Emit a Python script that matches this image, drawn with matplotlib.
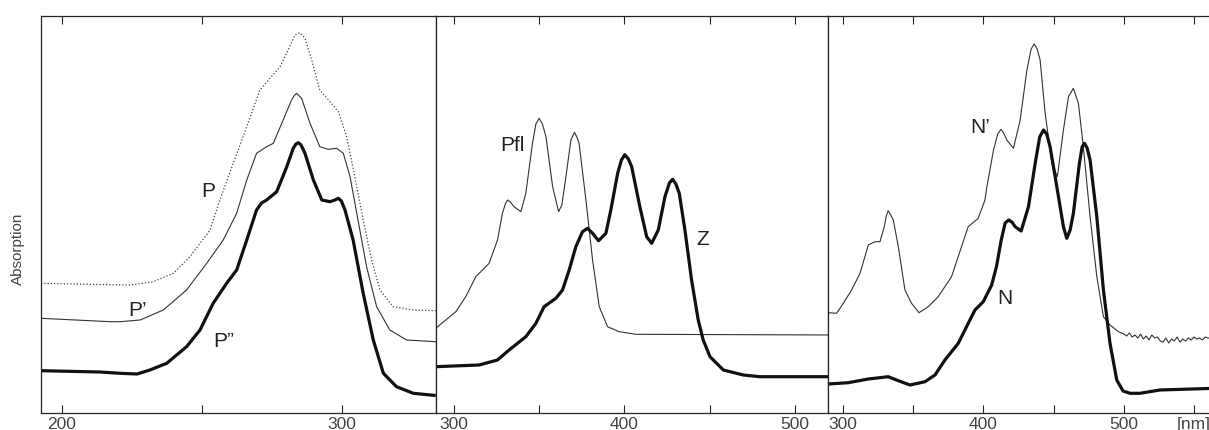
import matplotlib
matplotlib.use('Agg')
import matplotlib.pyplot as plt

plt.rcParams['font.family'] = ['Liberation Sans', 'DejaVu Sans']

# absorption in arbitrary units (0 = bottom of the frame), wavelength in nm
# panel 1: P (dotted), P' (thin), P'' (thick)
p_nm = [192.5, 213.6, 224.3, 232.6, 239.8, 245.7, 252.9, 256.4, 261.2, 266.0, 270.7, 274.3, 277.9,
        280.8, 283.2, 285.0, 286.8, 289.2, 292.1, 295.7, 298.7, 301.7, 304.6, 307.6, 310.6, 313.6,
        318.3, 325.5, 333.5]
p_abs = [129.7, 128.5, 128, 131.3, 139.7, 156.3, 183, 213, 249.7, 286.3, 323, 334.7, 346.3,
         363, 378, 380.3, 374.7, 353, 323, 311.3, 301.3, 276.3, 236.3, 193, 153, 123,
         106.3, 103, 102.3]

p1_nm = [192.5, 217.1, 220.7, 227.9, 236.2, 244.5, 251.7, 257.6, 262.4, 266.0, 269.5, 273.1, 275.5,
         279.0, 282.0, 283.0, 283.8, 284.6, 285.6, 288.6, 292.1, 295.1, 298.1, 300.5, 302.9, 305.3,
         308.8, 312.4, 317.1, 323.1, 333.5]
p1_abs = [94.7, 91.3, 91.3, 93, 103, 123, 149.7, 173, 199.7, 233, 259.7, 266.3, 269.7,
          293, 313, 317.5, 319.7, 317.5, 314.7, 289.7, 266.3, 263.7, 264.7, 259.7, 236.3, 199.7,
          146.3, 106.3, 83, 73, 71.3]

p2_nm = [192.5, 213.6, 220.7, 226.8, 231.4, 237.4, 244.5, 249.3, 254.0, 258.8, 262.4, 266.0, 269.5,
         271.3, 273.1, 276.7, 280.3, 282.6, 283.6, 284.4, 285.4, 286.8, 289.8, 292.8, 295.7, 297.5,
         298.7, 299.8, 301.1, 304.0, 307.6, 311.2, 314.8, 319.5, 325.5, 333.5]
p2_abs = [42.3, 41, 39.7, 39, 43, 49.7, 66.3, 83, 109.7, 129.7, 143, 173, 203,
          210, 213, 221.3, 246.3, 264.7, 269, 270.3, 268, 259.7, 233, 213, 211.3, 213,
          214.7, 212, 203, 173, 119.7, 73, 39.7, 26.3, 19.7, 17.5]

# panel 2: Pfl (thin), Z (thick)
pfl_nm = [289.4, 301.2, 307.0, 312.9, 320.7, 325.6, 328.5, 330.2, 331.5, 333.1, 335.3, 339.3, 342.2,
          346.1, 348.1, 350.0, 351.9, 354.0, 357.9, 361.4, 363.3, 365.7, 368.6, 370.7, 372.1, 373.4,
          377.4, 381.3, 385.2, 390.1, 396.9, 406.7, 525]
pfl_abs = [84.7, 101.3, 116.3, 136.3, 149.7, 173, 199.7, 209, 213, 211, 206.3, 201.3, 219.7,
           269.7, 289, 294.7, 289, 276.3, 226.3, 201.3, 208, 236.3, 273, 280.7, 276, 269.7,
           213, 153, 106.3, 86.3, 81.3, 78.7, 78]

z_nm = [289.4, 314.8, 325.6, 332.4, 342.2, 348.1, 352.9, 359.8, 363.7, 367.6, 371.5, 375.4, 378.4,
        381.3, 384.8, 389.1, 392.0, 396.0, 398.2, 400.2, 402.3, 404.2, 409.0, 413.0, 415.9, 419.8,
        423.7, 426.3, 428.2, 430.1, 432.1, 435.4, 439.3, 443.2, 446.1, 450.1, 457.9, 469.6, 479.4,
        500.9, 525]
z_abs = [46.3, 48, 53, 63, 76.3, 89.7, 106.3, 114.7, 123, 143, 166.3, 181.3, 184.7,
         179.7, 172.3, 179.7, 203, 239.7, 253, 258.3, 254, 246.3, 206.3, 176.3, 169.7, 183,
         216.3, 230, 233.7, 229, 219.7, 183, 133, 93, 73, 56.3, 43, 38, 36.3,
         36.3, 36.3]

# panel 3: N' (thin), N (thick)
n1_nm = [289.5, 295.4, 300.2, 306.1, 312.1, 318.0, 322.8, 326.3, 329.4, 330.8, 332.2, 334.0, 335.8,
         339.4, 344.1, 348.8, 354.1, 360.7, 367.8, 377.3, 384.4, 389.2, 396.3, 401.1, 402.5, 407.2,
         410.2, 412.5, 414.4, 416.7, 421.4, 426.2, 431.0, 434.0, 436.2, 438.3, 440.4, 444.0, 448.8,
         452.7, 457.0, 460.6, 464.1, 467.7, 471.2, 476.0, 480.8, 485.5, 490.2, 496.2,
         500, 502, 504, 506, 508, 510, 512, 514, 516, 518, 520, 522, 524, 526, 528, 530,
         532, 534, 536, 538, 540, 542, 544, 546, 548, 550, 552, 554, 556, 558, 560, 565]
n1_abs = [100.3, 99.7, 109.7, 123, 139.7, 168, 171.3, 171.3, 186.3, 197, 202.3, 198, 193,
          166.3, 123, 109.7, 100.3, 106.3, 116.3, 136.3, 166.3, 186.3, 194.7, 213, 226.3, 263,
          279, 283.7, 280, 273, 264.7, 293, 343, 364, 369, 364, 353, 299.7, 249.7,
          236.3, 283, 316.3, 324.7, 309.7, 266.3, 196.3, 136.3, 96.3, 88, 81.3,
          79, 77, 80, 76, 78, 75, 79, 74, 77, 73, 78, 75, 76, 72, 71, 75,
          70, 74, 72, 76, 71, 74, 72, 75, 73, 76, 74, 75, 73, 76, 75, 75]

n_nm = [289.5, 303.7, 318.0, 332.2, 339.4, 347.7, 358.4, 365.5, 372.6, 382.1, 389.2, 394.0, 399.9,
        405.9, 409.3, 412.7, 415.5, 418.0, 420.5, 422.6, 426.9, 432.1, 436.9, 440.1, 442.8, 445.1,
        447.5, 452.3, 457.0, 459.4, 461.8, 464.1, 468.4, 470.3, 472.0, 473.9, 476.0, 480.8, 485.5,
        490.2, 495.0, 499.5, 504.5, 511.6, 525.8, 565]
n_abs = [29, 30.3, 34, 36.3, 32.3, 28, 31.3, 38, 53, 69.7, 89.7, 103, 111.3,
         128, 146.3, 173, 190, 193, 190.7, 186.3, 182, 206.3, 249.7, 276, 283, 279,
         266.3, 226.3, 186.3, 174.7, 183, 199.7, 249.7, 266, 269.7, 265, 253, 196.3, 123,
         69.7, 33, 22, 19.7, 19.7, 23, 24.7]

ticks1 = [200, 250, 300]
labels1 = ['200', '', '300']
ticks2 = [300, 350, 400, 450, 500]
labels2 = ['300', '', '400', '', '500']
ticks3 = [300, 350, 400, 450, 500, 550]
labels3 = ['300', '', '400', '', '500', '[nm]']

W, H = 1209, 430
fig = plt.figure(figsize=(W / 100, H / 100), dpi=100)

def px_axes(x0, x1):
    return fig.add_axes([x0 / W, 1 - 413 / H, (x1 - x0) / W, 397 / H])

ax1 = px_axes(41, 435.7)
ax2 = px_axes(435.7, 828.3)
ax3 = px_axes(828.3, 1215)

thick = dict(color='#111111', lw=2.3, solid_joinstyle='round', solid_capstyle='butt')
thin = dict(color='#333333', lw=0.8)

ax1.plot(p_nm, p_abs, color='#444444', lw=0.9, ls=(0, (1, 1.6)))
ax1.plot(p1_nm, p1_abs, **thin)
ax1.plot(p2_nm, p2_abs, **thick)
ax1.set_xlim(192.5, 333.5)

ax2.plot(pfl_nm, pfl_abs, **thin)
ax2.plot(z_nm, z_abs, **thick)
ax2.set_xlim(289.4, 519.4)

ax3.plot(n1_nm, n1_abs, **thin)
ax3.plot(n_nm, n_abs, **thick)
ax3.set_xlim(289.5, 565)

for ax, t, l in [(ax1, ticks1, labels1), (ax2, ticks2, labels2), (ax3, ticks3, labels3)]:
    ax.set_ylim(0, 397)
    ax.set_xticks(t)
    ax.set_xticklabels(l)
    ax.set_yticks([])
    ax.tick_params(axis='x', direction='in', top=True, length=6, width=0.8,
                   color='#222222', labelsize=12.5, labelcolor='#444444', pad=3)
    for s in ax.spines.values():
        s.set_linewidth(0.9)
        s.set_color('#222222')

lab = dict(fontsize=15, color='#222222', ha='left', va='baseline')
ax1.text(249.9, 216.3, 'P', **lab)
ax1.text(223.7, 97, 'P\u2019', **lab)
ax1.text(254, 66.3, 'P\u201d', **lab)
ax2.text(327, 262.3, 'Pfl', **lab)
ax2.text(442.3, 168, 'Z', **lab)
ax3.text(390.6, 279.7, 'N\u2019', **lab)
ax3.text(409.6, 109, 'N', **lab)

fig.text(18 / W, 1 - 249 / H, 'Absorption', rotation=90, ha='center', va='center',
         fontsize=11, color='#444444')

fig.savefig('out.png', dpi=100)
